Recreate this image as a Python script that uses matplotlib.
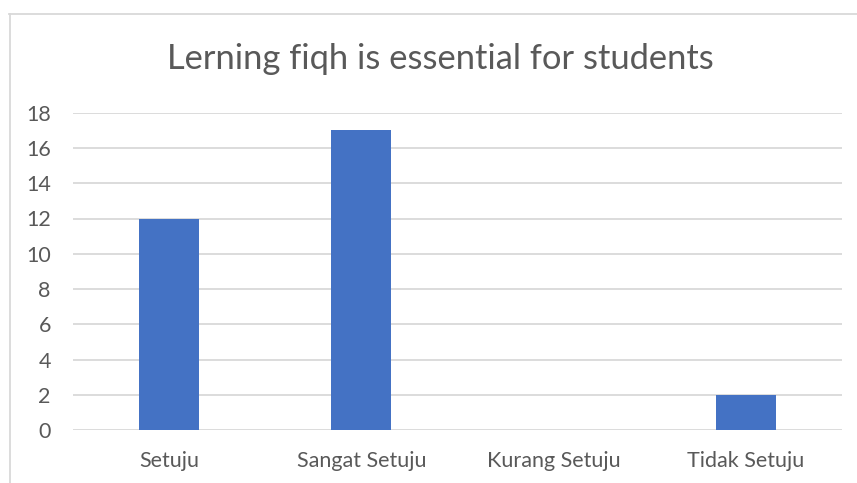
import matplotlib
matplotlib.use("Agg")
import matplotlib.pyplot as plt
from matplotlib.lines import Line2D

# Survey answers
categories = ["Setuju", "Sangat Setuju", "Kurang Setuju", "Tidak Setuju"]
counts = [12, 17, 0, 2]
yticks = [0, 2, 4, 6, 8, 10, 12, 14, 16, 18]
title = "Lerning fiqh is essential for students"

W, H = 857, 483
plt.rcParams['font.family'] = ['Lato', 'DejaVu Sans']
text_col = '#595959'
grid_col = '#D9D9D9'

fig = plt.figure(figsize=(W / 100, H / 100), dpi=100)
ax = fig.add_axes([73 / W, 1 - 430.3 / H, (842 - 73) / W, (430.3 - 112.6) / H])

x = range(len(categories))
ax.bar(x, counts, width=0.312, color='#4472C4', zorder=3)

ax.set_xlim(-0.5, len(categories) - 0.5)
ax.set_ylim(0, 18)
ax.set_yticks(yticks)
ax.set_xticks(list(x))
ax.set_xticklabels(categories)
ax.tick_params(axis='both', length=0, labelsize=15.5, labelcolor=text_col)
ax.tick_params(axis='x', pad=15)
ax.tick_params(axis='y', pad=16)
ax.grid(axis='y', color=grid_col, linewidth=1.3, zorder=0)
for s in ax.spines.values():
    s.set_visible(False)

fig.text(440 / W, 1 - 59 / H, title, ha='center', va='center',
         fontsize=24.8, color=text_col)

# chart border
fig.add_artist(Line2D([9.5 / W, 9.5 / W], [0, 1 - 14 / H], color=grid_col,
                      linewidth=1.3, transform=fig.transFigure))
fig.add_artist(Line2D([9 / W, 1], [1 - 14 / H, 1 - 14 / H], color=grid_col,
                      linewidth=1.3, transform=fig.transFigure))

fig.savefig('out.png', dpi=100)
